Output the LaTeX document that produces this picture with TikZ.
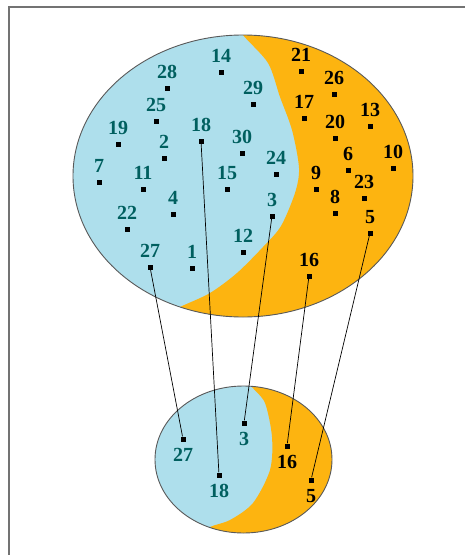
\documentclass[tikz,border=0pt]{standalone}
\usepackage{fontspec}
\setmainfont{Liberation Serif}
\definecolor{cellblue}{RGB}{174,223,236}
\definecolor{cellorange}{RGB}{253,180,16}
\definecolor{numteal}{RGB}{0,95,95}

\begin{document}
\begin{tikzpicture}[
  x=1pt, y=-1pt,
  dot/.style={rectangle, fill=black, inner sep=0pt, minimum size=5pt},
  num/.style={font=\fontsize{20}{21}\selectfont\bfseries, inner sep=0pt},
  rim/.style={draw=black!65, line width=0.9pt},
  line/.style={line width=0.7pt}
]
\useasboundingbox (0,0) rectangle (465,555);

% frame
\draw[black!55, line width=1.2pt] (9,555) -- (9,7) -- (465,7);

%================================================
% BIG SET
%================================================
\fill[cellblue] (243,176) ellipse [x radius=170, y radius=141];
\begin{scope}
  \clip (243,176) ellipse [x radius=170, y radius=141];
  \fill[cellorange] plot[smooth] coordinates {(238,22) (243,35) (268,63) (280,97)
    (292,130) (299,168) (295,193) (281,226) (263,247) (237,273) (210,293)
    (180,307) (160,318)} -- (430,330) -- (430,20) -- cycle;
\end{scope}
\draw[rim] (243,176) ellipse [x radius=170, y radius=141];

% points in the blue part
\foreach \n/\x/\y in {14/221/72, 28/167/88, 29/253/104, 25/156/121, 19/118/144,
  2/164/158, 18/201/141, 30/242/153, 24/276/174, 7/99/182, 11/143/189,
  15/227/189, 4/173/214, 3/272/216, 22/127/229, 12/243/252, 27/150/267, 1/192/268}
  \node[dot, label={[num, text=numteal, label distance=6.5pt]above:\n}] (b\n) at (\x,\y) {};

% points in the orange part
\foreach \n/\x/\y in {21/301/71, 26/334/94, 17/304/118, 13/370/126, 20/335/138,
  6/348/170, 10/393/168, 9/316/189, 23/364/198, 8/335/213, 5/370/233, 16/309/276}
  \node[dot, label={[num, label distance=6.5pt]above:\n}] (b\n) at (\x,\y) {};

%================================================
% SMALL SET
%================================================
\fill[cellblue] (243.5,459.5) ellipse [x radius=88.5, y radius=73.5];
\begin{scope}
  \clip (243.5,459.5) ellipse [x radius=88.5, y radius=73.5];
  \fill[cellorange] plot[smooth] coordinates {(249,378) (252,387) (265,403)
    (272,437) (270,470) (253,503) (230,520) (210,527) (195,538)}
    -- (340,545) -- (340,378) -- cycle;
\end{scope}
\draw[rim] (243.5,459.5) ellipse [x radius=88.5, y radius=73.5];

\foreach \n/\x/\y in {27/183/439, 18/219/475, 3/244/423}
  \node[dot, label={[num, text=numteal, label distance=6.5pt]below:\n}] (s\n) at (\x,\y) {};
\foreach \n/\x/\y in {16/287/446, 5/311/480}
  \node[dot, label={[num, label distance=6.5pt]below:\n}] (s\n) at (\x,\y) {};

% connectors
\foreach \n in {27,18,3,16,5}
  \draw[line] (b\n) -- (s\n);

\end{tikzpicture}
\end{document}
